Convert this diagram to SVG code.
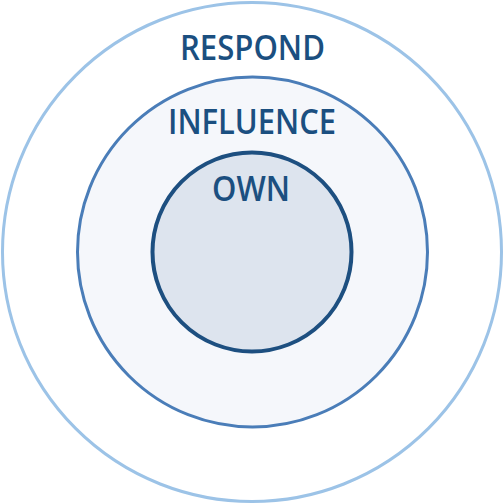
<svg xmlns="http://www.w3.org/2000/svg" width="504" height="504" viewBox="0 0 504 504">
<style>
.lbl{font-family:"Open Sans","Liberation Sans",sans-serif;font-weight:600;font-size:34px;fill:#1b4f80;text-anchor:middle}
</style>
<rect width="504" height="504" fill="#ffffff"/>
<g id="respond">
<circle cx="252" cy="252" r="249.5" fill="#ffffff" stroke="#9cc3e7" stroke-width="3"/>
<text class="lbl" x="252.5" y="60" textLength="145" lengthAdjust="spacingAndGlyphs">RESPOND</text>
</g>
<g id="influence">
<circle cx="252.5" cy="252" r="175" fill="#f5f7fb" stroke="#4a7db8" stroke-width="3"/>
<text class="lbl" x="252" y="134" textLength="168" lengthAdjust="spacingAndGlyphs">INFLUENCE</text>
</g>
<g id="own">
<circle cx="252" cy="252" r="99.5" fill="#dde4ee" stroke="#1d4f80" stroke-width="4"/>
<text class="lbl" x="251" y="201" textLength="78" lengthAdjust="spacingAndGlyphs">OWN</text>
</g>
<g id="connectors"/>
</svg>
